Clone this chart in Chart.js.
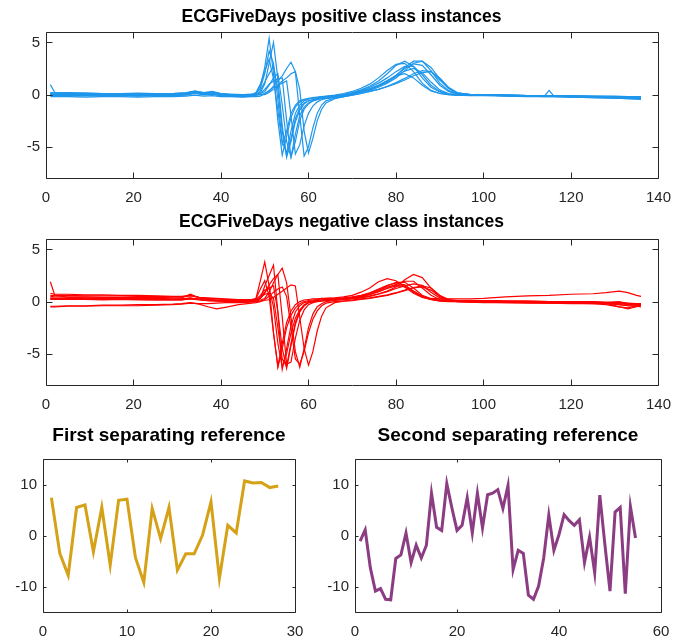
<!DOCTYPE html>
<html>
<head>
<meta charset="utf-8">
<title>ECGFiveDays</title>
<script src="https://cdn.jsdelivr.net/npm/chart.js@4.4.0/dist/chart.umd.min.js"></script>
<style>
  body { margin: 0; background: #fff; }
  #fig { position: relative; width: 682px; height: 643px; }
  .painel { position: absolute; }
</style>
</head>
<body>
<div id="fig">
  <div class="painel" style="left:0;top:0;width:682px;height:210px"><canvas id="grafico1"></canvas></div>
  <div class="painel" style="left:0;top:210px;width:682px;height:210px"><canvas id="grafico2"></canvas></div>
  <div class="painel" style="left:0;top:420px;width:341px;height:223px"><canvas id="grafico3"></canvas></div>
  <div class="painel" style="left:300px;top:420px;width:382px;height:223px"><canvas id="grafico4"></canvas></div>
</div>
<script>
// time steps where the ECG values were read (dense around the QRS complex)
const T_POS = [1,2,5,9,13,17,21,25,29,32,34,36,38,40,42,45,47,
  48,49,50,51,52,53,54,55,56,57,58,59,60,61,62,63,64,
  66,68,70,72,74,76,78,80,82,84,86,88,90,92,94,97,
  100,105,110,114,115,116,120,125,130,133,136];
const T_NEG = [1,2,5,9,13,17,21,25,29,31,33,35,37,39,41,44,47,
  48,49,50,51,52,53,54,55,56,57,58,59,60,61,62,63,64,
  66,68,70,72,74,76,78,80,82,84,86,88,90,92,94,97,
  100,105,110,115,120,125,128,131,133,135,136];

// positive class instances
const pos1 = [0.95,0.2,0.15,0.1,0.1,0.05,0.05,0.0,0.05,0.1,0.25,0.1,0.15,0.0,-0.05,-0.1,-0.05,
  0.1,0.8,2.6,5.4,2.0,-2.5,-5.8,-4.0,-2.2,-1.2,-0.7,-0.5,-0.4,-0.35,-0.3,-0.25,-0.2,
  -0.1,0.0,0.2,0.45,0.8,1.3,2.0,2.8,3.2,2.7,1.6,0.7,0.25,0.05,0.0,-0.05,
  0.0,-0.05,-0.1,-0.1,-0.1,-0.1,-0.15,-0.15,-0.2,-0.25,-0.3];
const pos2 = [0.1,0.1,0.0,-0.05,0.0,-0.05,0.0,-0.05,0.0,0.05,0.15,0.05,0.1,-0.05,-0.1,-0.15,-0.1,
  -0.05,0.2,1.0,3.0,5.0,1.5,-3.0,-6.0,-4.2,-2.3,-1.3,-0.8,-0.6,-0.5,-0.42,-0.36,-0.3,
  -0.2,-0.1,0.05,0.25,0.5,0.8,1.2,1.8,2.6,3.2,3.2,2.3,1.1,0.4,0.1,0.0,
  0.0,-0.05,-0.1,-0.15,-0.15,-0.15,-0.2,-0.25,-0.3,-0.35,-0.4];
const pos3 = [0.2,0.15,0.2,0.15,0.1,0.1,0.05,0.1,0.1,0.2,0.3,0.15,0.1,0.05,0.0,-0.05,0.0,
  0.2,1.0,2.2,3.4,1.5,-1.5,-4.8,-3.5,-1.8,-1.0,-0.6,-0.45,-0.35,-0.3,-0.25,-0.2,-0.15,
  -0.05,0.1,0.3,0.6,1.0,1.6,2.3,2.9,3.0,2.2,1.1,0.4,0.1,0.0,-0.05,-0.05,
  -0.05,-0.05,-0.1,-0.1,-0.1,-0.1,-0.1,-0.15,-0.15,-0.2,-0.2];
const pos4 = [-0.1,-0.1,-0.15,-0.1,-0.15,-0.1,-0.15,-0.1,-0.1,-0.05,0.1,0.0,0.05,-0.1,-0.15,-0.2,-0.15,
  -0.1,0.4,1.2,2.0,2.7,0.5,-3.5,-5.9,-4.5,-2.6,-1.5,-0.9,-0.6,-0.5,-0.4,-0.35,-0.3,
  -0.2,-0.05,0.15,0.4,0.7,1.1,1.6,2.2,2.7,2.7,1.9,0.9,0.3,0.05,-0.05,-0.1,
  -0.1,-0.15,-0.2,-0.2,-0.2,-0.2,-0.25,-0.3,-0.35,-0.4,-0.45];
const pos5 = [0.0,0.0,0.05,0.0,0.0,0.05,0.0,0.05,0.1,0.15,0.35,0.2,0.3,0.1,0.0,-0.05,0.0,
  0.0,0.1,0.5,1.0,1.3,1.5,1.6,-2.5,-6.0,-4.5,-2.5,-1.4,-0.9,-0.6,-0.5,-0.4,-0.35,
  -0.25,-0.1,0.1,0.3,0.55,0.85,1.25,1.75,2.25,2.5,2.1,1.2,0.45,0.1,0.0,-0.05,
  -0.05,-0.1,-0.1,-0.1,0.4,-0.1,-0.15,-0.2,-0.25,-0.25,-0.3];
const pos6 = [-0.2,-0.2,-0.2,-0.25,-0.2,-0.2,-0.25,-0.2,-0.2,-0.15,-0.05,-0.15,-0.1,-0.2,-0.2,-0.25,-0.2,
  -0.2,-0.15,0.1,0.4,0.7,0.9,1.1,1.3,-2.0,-5.7,-4.8,-3.0,-1.8,-1.1,-0.7,-0.5,-0.4,
  -0.3,-0.2,-0.05,0.1,0.3,0.5,0.75,1.05,1.4,1.8,2.1,2.2,1.6,0.7,0.2,0.0,
  -0.05,-0.1,-0.15,-0.2,-0.2,-0.2,-0.25,-0.3,-0.35,-0.4,-0.45];
const pos7 = [0.05,0.05,0.0,0.05,0.0,0.0,0.05,0.0,0.0,0.05,0.2,0.1,0.2,0.0,-0.05,-0.1,-0.05,
  -0.05,0.0,0.1,0.3,0.8,1.3,1.8,2.5,3.1,2.2,-2.0,-5.9,-5.0,-3.2,-1.8,-1.0,-0.6,
  -0.35,-0.2,-0.05,0.1,0.3,0.5,0.8,1.15,1.55,2.0,2.3,2.2,1.4,0.6,0.15,0.0,
  0.0,-0.05,-0.1,-0.1,-0.1,-0.1,-0.15,-0.2,-0.2,-0.25,-0.3];
const pos8 = [0.1,0.1,0.05,0.1,0.05,0.1,0.05,0.1,0.05,0.1,0.2,0.1,0.25,0.05,0.0,-0.05,0.0,
  0.0,0.0,0.0,0.2,0.5,0.9,1.3,1.6,2.0,2.2,0.5,-3.5,-5.6,-4.2,-2.5,-1.4,-0.8,
  -0.4,-0.2,0.0,0.2,0.4,0.7,1.1,1.6,2.3,3.0,3.2,2.6,1.5,0.6,0.15,0.0,
  0.0,-0.05,-0.1,-0.1,-0.1,-0.15,-0.15,-0.2,-0.25,-0.3,-0.35];
const pos9 = [-0.05,-0.05,-0.1,-0.05,-0.1,-0.05,-0.1,-0.05,-0.05,0.0,0.15,0.0,0.05,-0.1,-0.1,-0.15,-0.1,
  0.1,0.6,2.0,4.2,3.0,-0.5,-4.5,-5.6,-3.5,-1.8,-1.0,-0.6,-0.45,-0.35,-0.3,-0.25,-0.2,
  -0.1,0.0,0.15,0.3,0.55,0.9,1.35,1.8,2.0,1.6,0.9,0.35,0.1,0.0,-0.05,-0.05,
  -0.05,-0.1,-0.1,-0.15,-0.15,-0.15,-0.2,-0.2,-0.25,-0.3,-0.3];
const pos10 = [0.15,0.15,0.1,0.15,0.1,0.1,0.15,0.1,0.1,0.15,0.3,0.2,0.2,0.1,0.05,0.0,0.05,
  0.05,0.1,0.3,0.9,1.6,2.0,-1.0,-4.5,-6.0,-3.8,-2.0,-1.2,-0.8,-0.6,-0.45,-0.35,-0.3,
  -0.2,-0.05,0.1,0.3,0.55,0.9,1.3,1.85,2.5,2.95,2.8,1.9,0.9,0.3,0.05,-0.05,
  -0.05,-0.1,-0.15,-0.15,-0.15,-0.15,-0.2,-0.25,-0.3,-0.3,-0.35];

// negative class instances
const neg1 = [0.8,0.7,0.7,0.65,0.65,0.6,0.6,0.55,0.5,0.5,0.6,0.4,0.3,0.25,0.2,0.2,0.2,
  0.3,2.0,3.8,1.5,-3.0,-6.3,-4.5,-2.5,-1.3,-0.6,-0.2,0.0,0.1,0.15,0.2,0.25,0.3,
  0.35,0.45,0.6,0.9,1.3,1.9,2.2,2.0,1.4,0.8,0.4,0.2,0.1,0.1,0.1,0.1,
  0.1,0.05,0.05,0.0,0.0,-0.05,-0.1,-0.1,-0.2,-0.25,-0.3];
const neg2 = [1.9,0.6,0.4,0.35,0.35,0.3,0.3,0.3,0.25,0.25,0.3,0.2,0.15,0.1,0.05,0.0,0.0,
  0.0,0.3,1.5,2.5,3.5,-1.0,-6.5,-4.5,-2.3,-1.0,-0.4,-0.1,0.0,0.05,0.1,0.1,0.15,
  0.2,0.3,0.4,0.55,0.8,1.1,1.4,1.6,1.4,0.9,0.45,0.2,0.1,0.05,0.05,0.05,
  0.05,0.0,0.0,-0.05,-0.05,-0.1,-0.1,0.0,-0.2,-0.3,-0.35];
const neg3 = [0.3,0.3,0.3,0.25,0.3,0.25,0.25,0.2,0.2,0.25,0.35,0.2,0.15,0.1,0.1,0.05,0.1,
  0.1,0.15,0.3,0.9,1.8,2.6,3.2,1.8,-1.5,-4.8,-6.3,-4.5,-2.5,-1.2,-0.5,-0.2,0.0,
  0.1,0.2,0.3,0.4,0.55,0.75,1.0,1.4,2.1,2.6,2.3,1.3,0.5,0.2,0.1,0.05,
  0.05,0.0,-0.05,-0.05,-0.1,-0.1,-0.15,-0.5,-0.6,-0.4,-0.3];
const neg4 = [-0.5,-0.5,-0.45,-0.45,-0.4,-0.4,-0.4,-0.35,-0.3,-0.25,-0.15,-0.2,-0.2,-0.15,-0.1,-0.1,-0.05,
  0.0,0.05,0.1,0.2,0.4,0.7,1.0,1.3,1.6,1.5,-1.5,-4.5,-6.1,-4.8,-2.8,-1.4,-0.6,
  -0.1,0.05,0.15,0.25,0.35,0.5,0.65,0.85,1.1,1.35,1.5,1.3,0.6,0.2,0.05,0.0,
  0.0,-0.05,-0.05,-0.1,-0.1,-0.1,-0.15,-0.3,-0.4,-0.45,-0.5];
const neg5 = [0.2,0.2,0.2,0.2,0.15,0.2,0.15,0.15,0.15,0.15,0.3,0.2,0.1,0.1,0.05,0.05,0.1,
  0.3,1.2,2.0,0.5,-3.0,-6.2,-4.0,-2.0,-0.9,-0.3,0.0,0.15,0.2,0.25,0.25,0.3,0.3,
  0.3,0.35,0.45,0.6,0.85,1.2,1.55,1.8,1.6,1.0,0.5,0.25,0.15,0.1,0.1,0.1,
  0.1,0.05,0.05,0.0,0.0,0.0,-0.05,-0.1,-0.15,-0.2,-0.2];
const neg6 = [0.6,0.6,0.6,0.55,0.55,0.55,0.5,0.5,0.45,0.45,0.55,0.4,0.35,0.3,0.25,0.2,0.15,
  0.15,0.4,0.9,1.3,1.5,-1.0,-4.5,-6.4,-4.2,-2.2,-1.0,-0.4,-0.1,0.05,0.1,0.15,0.2,
  0.25,0.3,0.4,0.55,0.8,1.1,1.5,1.85,1.85,1.3,0.6,0.3,0.25,0.25,0.25,0.25,
  0.3,0.45,0.55,0.6,0.7,0.75,0.85,1.0,0.85,0.6,0.5];
const neg7 = [0.35,0.3,0.3,0.3,0.3,0.3,0.25,0.25,0.2,0.2,0.3,0.25,0.2,0.15,0.15,0.1,0.1,
  0.2,0.6,1.1,1.3,-0.5,-4.0,-6.3,-5.0,-3.0,-1.6,-0.8,-0.3,-0.1,0.0,0.05,0.1,0.1,
  0.15,0.2,0.25,0.35,0.5,0.7,0.95,1.25,1.5,1.7,1.55,0.9,0.35,0.1,0.0,-0.05,
  -0.05,-0.1,-0.1,-0.15,-0.15,-0.2,-0.2,-0.3,-0.4,-0.4,-0.35];
const neg8 = [-0.45,-0.45,-0.4,-0.4,-0.35,-0.35,-0.3,-0.3,-0.25,-0.2,-0.1,-0.25,-0.5,-0.7,-0.55,-0.3,-0.15,
  -0.1,0.0,0.2,0.5,0.9,1.2,1.4,0.5,-2.5,-5.5,-6.0,-4.8,-3.0,-1.7,-0.9,-0.4,-0.15,
  0.0,0.05,0.1,0.2,0.3,0.45,0.6,0.8,1.05,1.3,1.4,1.1,0.5,0.15,0.0,-0.05,
  -0.1,-0.1,-0.15,-0.15,-0.2,-0.2,-0.3,-0.5,-0.7,-0.5,-0.4];
const neg9 = [0.5,0.45,0.45,0.45,0.4,0.4,0.4,0.4,0.35,0.35,0.7,0.35,0.2,0.15,0.1,0.1,0.1,
  0.15,0.4,0.7,0.8,0.3,-2.5,-5.5,-6.2,-4.0,-2.0,-0.9,-0.4,-0.1,0.0,0.1,0.15,0.2,
  0.25,0.3,0.4,0.5,0.7,0.95,1.3,1.65,1.95,1.95,1.3,0.6,0.2,0.1,0.05,0.05,
  0.05,0.05,0.0,0.0,-0.05,-0.1,-0.1,-0.2,-0.3,-0.3,-0.25];
const neg10 = [0.25,0.25,0.2,0.2,0.2,0.2,0.2,0.15,0.15,0.15,0.25,0.15,0.1,0.05,0.05,0.05,0.05,
  0.1,0.3,0.8,1.6,2.2,2.6,-1.5,-6.0,-5.8,-3.5,-1.8,-0.8,-0.3,-0.1,0.0,0.05,0.1,
  0.15,0.2,0.3,0.45,0.65,0.95,1.25,1.5,1.45,1.0,0.5,0.2,0.05,0.0,0.0,0.0,
  0.0,0.0,-0.05,-0.05,-0.1,-0.1,-0.15,-0.1,-0.2,-0.3,-0.3];

// shapelets
const sep1 = [7.4,-3.5,-7.8,5.5,6.0,-3.2,5.5,-5.8,6.9,7.1,-4.3,-9.2,5.3,-0.6,5.5,-6.8,-3.6,-3.6,0.1,6.6,-8.4,2.0,0.5,10.7,10.3,10.4,9.4,9.7];
const sep2 = [-1.1,1.1,-6.3,-10.9,-10.4,-12.5,-12.6,-4.5,-3.8,0.5,-5.3,-1.9,-4.4,-1.9,8.3,1.6,1.0,10.2,5.4,1.0,
  2.0,7.4,0.5,8.3,1.5,8.0,8.3,9.0,5.3,9.8,-6.7,-2.9,-3.5,-11.7,-12.5,-9.9,-4.4,4.0,-2.9,0.2,
  4.1,2.9,2.0,3.1,-5.3,-0.3,-7.3,7.9,-1.8,-10.9,4.6,5.5,-11.4,5.7,-0.5];

// ticks
const xTicksEcg = [0,20,40,60,80,100,120,140];
const yTicksEcg = [-5,0,5];
const xTicksSep1 = [0,10,20,30];
const xTicksSep2 = [0,20,40,60];
const yTicksSep = [-10,0,10];

const AZUL = '#1E96EB';
const VERMELHO = '#FF0000';
const DOURADO = '#D4A117';
const ROXO = '#8C3C82';

Chart.defaults.font.family = '"Liberation Sans", Arial, sans-serif';
Chart.defaults.color = '#262626';

// box around the axes with inward ticks, like matlab
const caixa = {
  id: 'caixa',
  afterDraw(chart, args, opts) {
    const ctx = chart.ctx;
    const a = chart.chartArea;
    const x = chart.scales.x, y = chart.scales.y;
    const len = opts.tickLen;
    const l = Math.round(a.left) + 0.5, r = Math.round(a.right) + 0.5;
    const t = Math.round(a.top) + 0.5, b = Math.round(a.bottom) + 0.5;
    ctx.save();
    ctx.strokeStyle = '#262626';
    ctx.lineWidth = 1;
    ctx.beginPath();
    ctx.rect(l, t, r - l, b - t);
    x.ticks.forEach(tk => {
      const px = Math.round(x.getPixelForValue(tk.value)) + 0.5;
      ctx.moveTo(px, b); ctx.lineTo(px, b - len);
      ctx.moveTo(px, t); ctx.lineTo(px, t + len);
    });
    y.ticks.forEach(tk => {
      const py = Math.round(y.getPixelForValue(tk.value)) + 0.5;
      ctx.moveTo(l, py); ctx.lineTo(l + len, py);
      ctx.moveTo(r, py); ctx.lineTo(r - len, py);
    });
    ctx.stroke();
    ctx.restore();
  }
};

function serie(xs, ys, cor, largura) {
  return {
    data: xs.map((v, i) => ({ x: v, y: ys[i] })),
    borderColor: cor,
    borderWidth: largura,
    pointRadius: 0,
    fill: false,
    borderJoinStyle: 'miter'
  };
}

function montaGrafico(id, datasets, o) {
  return new Chart(document.getElementById(id), {
    type: 'line',
    data: { datasets: datasets },
    options: {
      responsive: true,
      maintainAspectRatio: false,
      animation: false,
      layout: { padding: { left: o.padLeft, right: o.padRight, top: 0, bottom: 0 } },
      plugins: {
        legend: { display: false },
        tooltip: { enabled: false },
        title: {
          display: true, text: o.title, color: '#000', fullSize: o.tituloLargo,
          font: { size: o.titleSize, weight: 'bold', lineHeight: 1.2 }, padding: o.titlePad
        },
        caixa: { tickLen: o.tickLen }
      },
      scales: {
        x: {
          type: 'linear', min: o.xMin, max: o.xMax,
          grid: { display: false, drawTicks: false }, border: { display: false },
          afterBuildTicks: s => { s.ticks = o.xTicks.map(v => ({ value: v })); },
          afterFit: s => { s.height = o.xHeight; },
          ticks: { padding: 11, font: { size: 15 }, color: '#262626', maxRotation: 0, autoSkip: false }
        },
        y: {
          type: 'linear', min: o.yMin, max: o.yMax,
          grid: { display: false, drawTicks: false }, border: { display: false },
          afterBuildTicks: s => { s.ticks = o.yTicks.map(v => ({ value: v })); },
          afterFit: s => { s.width = o.yWidth; },
          ticks: { padding: 6, font: { size: 15 }, color: '#262626', autoSkip: false }
        }
      }
    },
    plugins: [caixa]
  });
}

const positivos = [pos1, pos2, pos3, pos4, pos5, pos6, pos7, pos8, pos9, pos10];
const negativos = [neg1, neg2, neg3, neg4, neg5, neg6, neg7, neg8, neg9, neg10];
const idx1 = sep1.map((v, i) => i + 1);
const idx2 = sep2.map((v, i) => i + 1);

montaGrafico('grafico1', positivos.map(p => serie(T_POS, p, AZUL, 1.2)), {
  title: 'ECGFiveDays positive class instances', titleSize: 17.5, tituloLargo: true,
  titlePad: { top: 6.5, bottom: 4.5 },
  xMin: 0, xMax: 140, yMin: -8, yMax: 6, xTicks: xTicksEcg, yTicks: yTicksEcg,
  xHeight: 32, yWidth: 23, padLeft: 23, padRight: 22, tickLen: 6
});

montaGrafico('grafico2', negativos.map(p => serie(T_NEG, p, VERMELHO, 1.2)), {
  title: 'ECGFiveDays negative class instances', titleSize: 17.5, tituloLargo: true,
  titlePad: { top: 2, bottom: 6 },
  xMin: 0, xMax: 140, yMin: -8, yMax: 6, xTicks: xTicksEcg, yTicks: yTicksEcg,
  xHeight: 35, yWidth: 23, padLeft: 23, padRight: 22, tickLen: 6
});

montaGrafico('grafico3', [serie(idx1, sep1, DOURADO, 3)], {
  title: 'First separating reference', titleSize: 19, tituloLargo: false,
  titlePad: { top: 4, bottom: 12.2 },
  xMin: 0, xMax: 30, yMin: -15, yMax: 15, xTicks: xTicksSep1, yTicks: yTicksSep,
  xHeight: 31, yWidth: 43, padLeft: 0, padRight: 46, tickLen: 3
});

montaGrafico('grafico4', [serie(idx2, sep2, ROXO, 3)], {
  title: 'Second separating reference', titleSize: 19, tituloLargo: false,
  titlePad: { top: 4, bottom: 12.2 },
  xMin: 0, xMax: 60, yMin: -15, yMax: 15, xTicks: xTicksSep2, yTicks: yTicksSep,
  xHeight: 31, yWidth: 55, padLeft: 0, padRight: 21, tickLen: 3
});
</script>
</body>
</html>
